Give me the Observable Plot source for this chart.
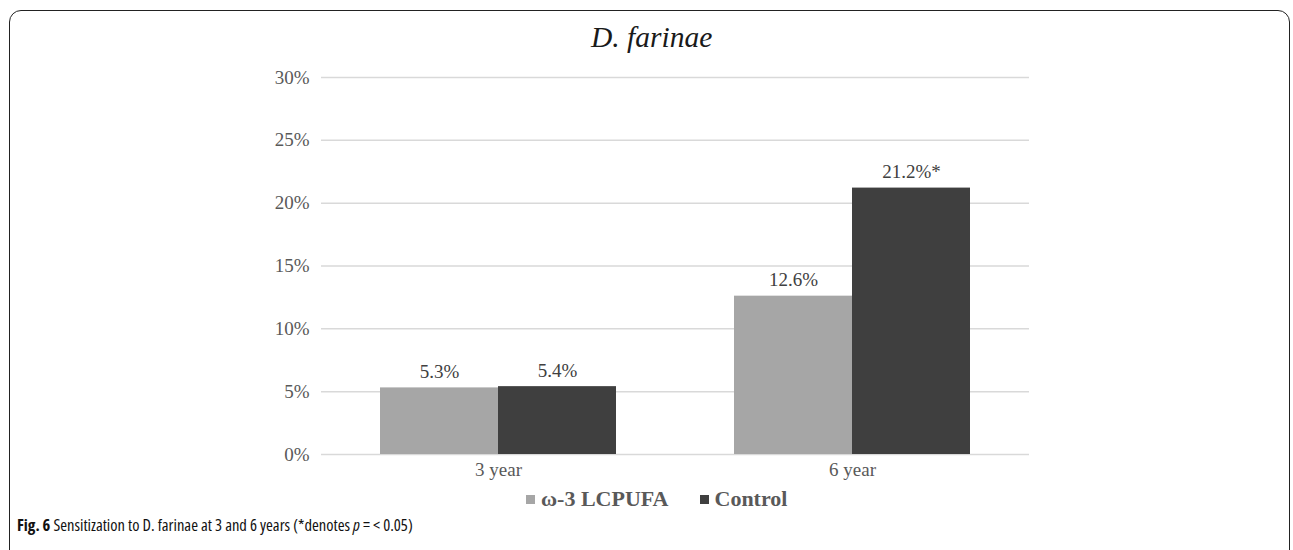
<!DOCTYPE html>
<html>
<head>
<meta charset="utf-8">
<script src="https://cdn.jsdelivr.net/npm/d3@7"></script>
<script src="https://cdn.jsdelivr.net/npm/@observablehq/plot@0.6"></script>
<style>
  html, body { margin: 0; padding: 0; background: #fff; }
  #wrap { position: relative; width: 1293px; height: 550px; overflow: hidden; }
  #frame { position: absolute; left: 9px; top: 10px; width: 1281px; height: 600px; border: 1.8px solid #222; border-radius: 12px; box-sizing: border-box; }
  #chart { position: absolute; left: 0; top: 0; }
  #title { position: absolute; left: 591px; top: 21px; font-family: "Liberation Serif", serif; font-size: 29.5px; font-style: italic; color: #1a1a1a; white-space: nowrap; }
  #legend { position: absolute; left: 526px; top: 486px; font: bold 22px "Liberation Serif", serif; color: #595959; white-space: nowrap; }
  #legend .item { display: inline-block; margin-right: 31px; }
  #legend .sw { display: inline-block; width: 9px; height: 9px; margin-right: 6px; vertical-align: 2px; }
  #caption { position: absolute; left: 17px; top: 513px; font-family: "Open Sans", sans-serif; font-stretch: condensed; font-size: 16.5px; color: #111; white-space: nowrap; }
</style>
</head>
<body>
<div id="wrap">
  <div id="frame"></div>
  <div id="chart"></div>
  <div id="title">D. farinae</div>
  <div id="legend"></div>
  <div id="caption"><b>Fig. 6</b> Sensitization to D. farinae at 3 and 6 years (*denotes <i>p</i> = &lt; 0.05)</div>
</div>
<script>
const years = ["3 year", "6 year"];
const groups = ["ω-3 LCPUFA", "Control"];
const omegaValues = [5.3, 12.6];
const controlValues = [5.4, 21.2];
const controlMarks = ["", "*"];
const yTicks = [0, 5, 10, 15, 20, 25, 30];
const colors = ["#a6a6a6", "#3f3f3f"];

const data = years.flatMap((yr, i) => [
  { year: yr, group: groups[0], value: omegaValues[i], label: omegaValues[i].toFixed(1) + "%" },
  { year: yr, group: groups[1], value: controlValues[i], label: controlValues[i].toFixed(1) + "%" + controlMarks[i] }
]);

const chart = Plot.plot({
  width: 1293,
  height: 490,
  marginLeft: 320,
  marginRight: 264,
  marginTop: 77,
  marginBottom: 36,
  style: { fontFamily: "'Liberation Serif', serif", fontSize: "19px", color: "#595959", background: "transparent" },
  fx: { domain: years, padding: 0, label: null, axis: "bottom", tickSize: 0, tickPadding: 8 },
  x: { domain: groups, paddingInner: 0, paddingOuter: 0.5, axis: null },
  y: { domain: [0, 30], ticks: yTicks, tickFormat: d => d + "%", tickSize: 0, tickPadding: 12, label: null },
  color: { domain: groups, range: colors },
  marks: [
    Plot.ruleY(yTicks, { stroke: "#d9d9d9", strokeWidth: 1.5 }),
    Plot.barY(data, { fx: "year", x: "group", y: "value", fill: "group" }),
    Plot.text(data, { fx: "year", x: "group", y: "value", text: "label", dy: -16, fill: "#404040" })
  ]
});
document.getElementById("chart").appendChild(chart);

const legend = document.getElementById("legend");
groups.forEach((g, i) => {
  const item = document.createElement("span");
  item.className = "item";
  const sw = document.createElement("span");
  sw.className = "sw";
  sw.style.background = colors[i];
  item.appendChild(sw);
  item.appendChild(document.createTextNode(g));
  legend.appendChild(item);
});
</script>
</body>
</html>
